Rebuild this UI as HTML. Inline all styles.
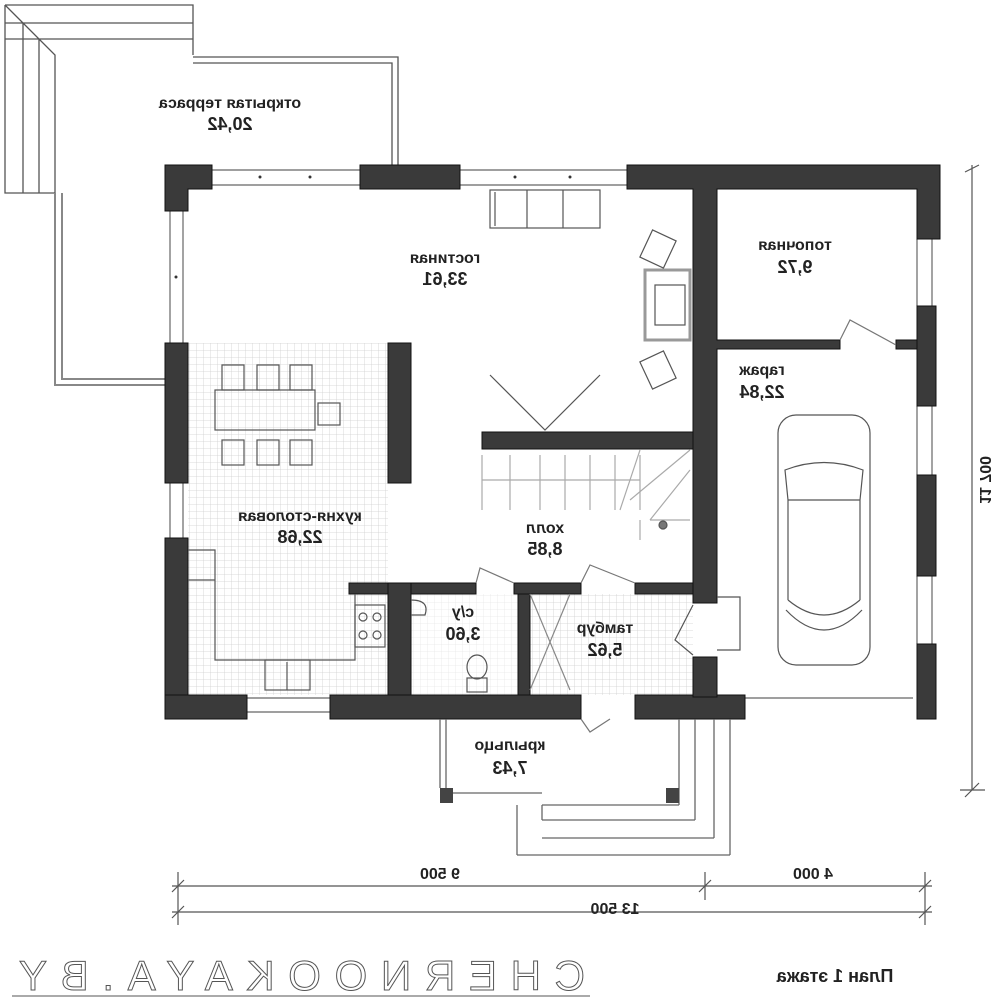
<!DOCTYPE html>
<html><head><meta charset="utf-8"><style>
html,body{margin:0;padding:0;background:#fff}
svg{display:block}
text{font-family:"Liberation Sans",sans-serif;fill:#222}
</style></head><body>
<svg width="1000" height="1000" viewBox="0 0 1000 1000" xmlns="http://www.w3.org/2000/svg">
<defs>
<pattern id="g" width="7" height="7" patternUnits="userSpaceOnUse"><path d="M7 0H0V7" fill="none" stroke="#d0d0d0" stroke-width="0.8"/></pattern>
</defs>
<g fill="none" stroke="#555" stroke-width="1.3">
<path d="M5 5H193V55M5 23H193M5 39H193M5 5V193H55M23 23V193M39 39V193M5 5L55 55V193"/>
<path d="M193 57H398V165M193 63H392V165"/>
<path d="M55 193V385H165M62 193V379H165" stroke="#888" stroke-width="2"/>
</g>
<rect x="188" y="343" width="200" height="352" fill="url(#g)"/>
<rect x="530" y="594" width="163" height="101" fill="url(#g)"/>
<rect x="411" y="594" width="107" height="101" fill="url(#g)" opacity=".5"/>
<g stroke="#666" stroke-width="1.2" fill="none">
<path d="M212 170H360M212 185H360M460 170H627M460 185H627"/>
<path d="M170 211V343M183 211V343M170 483V538M183 483V538"/>
<path d="M247 698H330M247 712H330"/>
<path d="M917 239V306M932 239V306M917 406V475M932 406V475M917 576V644M932 576V644"/>
<path d="M745 698H913"/>
</g>
<g fill="#333">
<circle cx="260" cy="177" r="1.5"/><circle cx="310" cy="177" r="1.5"/><circle cx="515" cy="177" r="1.5"/><circle cx="570" cy="177" r="1.5"/><circle cx="176" cy="277" r="1.5"/>
</g>
<g fill="#3a3a3a" stroke="#111" stroke-width="1">
<path d="M165 165H212V189H188V211H165Z"/>
<rect x="360" y="165" width="100" height="24"/>
<path d="M627 165H940V239H917V189H717V340H840V349H717V603H693V189H627Z"/>
<rect x="896" y="340" width="23" height="9"/>
<rect x="917" y="306" width="19" height="100"/>
<rect x="917" y="475" width="19" height="101"/>
<rect x="917" y="644" width="19" height="75"/>
<rect x="165" y="343" width="23" height="140"/>
<rect x="165" y="538" width="23" height="181"/>
<rect x="165" y="695" width="82" height="24"/>
<rect x="330" y="695" width="251" height="24"/>
<rect x="635" y="695" width="110" height="24"/>
<rect x="693" y="657" width="24" height="40"/>
<rect x="388" y="343" width="23" height="140"/>
<rect x="482" y="432" width="211" height="17"/>
<rect x="349" y="583" width="127" height="11"/>
<rect x="514" y="583" width="67" height="11"/>
<rect x="635" y="583" width="58" height="11"/>
<rect x="388" y="583" width="23" height="112"/>
<rect x="518" y="594" width="12" height="101"/>
</g>
<g fill="none" stroke="#555" stroke-width="1.2">
<rect x="490" y="190" width="110" height="38"/><path d="M527 190V228M563 190V228M495 192V226"/>
<rect x="645" y="234" width="26" height="30" transform="rotate(25 658 249)"/>
<rect x="645" y="355" width="26" height="30" transform="rotate(-25 658 370)"/>
<rect x="645" y="270" width="45" height="70" stroke="#999" stroke-width="3"/>
<rect x="655" y="285" width="30" height="40"/>
<path d="M490 375L545 430L600 375"/>
<rect x="215" y="390" width="100" height="40"/>
<rect x="222" y="365" width="22" height="25"/><rect x="257" y="365" width="22" height="25"/><rect x="290" y="365" width="22" height="25"/>
<rect x="222" y="440" width="22" height="25"/><rect x="257" y="440" width="22" height="25"/><rect x="290" y="440" width="22" height="25"/>
<rect x="318" y="403" width="22" height="22"/>
<path d="M188 550H215V660H355V594M215 580H188"/>
<rect x="355" y="605" width="30" height="42"/><circle cx="363" cy="617" r="4"/><circle cx="377" cy="617" r="4"/><circle cx="363" cy="635" r="4"/><circle cx="377" cy="635" r="4"/>
<rect x="265" y="660" width="45" height="30"/><path d="M287 662V690"/>
<path d="M482 455V510M510 455V510M540 455V510M565 455V510M590 455V510M615 455V510M640 455V510M482 480H640" stroke="#aaa"/>
<path d="M640 450L620 510M690 450L630 500M690 470L650 520M650 520H690M640 520V540" stroke="#aaa"/>
<circle cx="663" cy="525" r="4" fill="#777"/>
<path d="M411 600Q430 600 425 615L411 615"/>
<ellipse cx="477" cy="667" rx="10" ry="12"/><rect x="467" y="678" width="20" height="14"/>
<path d="M530 594L570 690M570 594L530 690" stroke="#888"/>
<path d="M476 583L480 568L514 583M581 583L590 565L635 583" stroke="#777"/>
<path d="M693 605L675 640L693 655M717 597H740V650H717"/>
<path d="M840 340L850 320L896 345" stroke="#777"/>
<path d="M581 719L590 732L610 719" stroke="#777"/>
<rect x="778" y="415" width="92" height="250" rx="18"/>
<path d="M785 470Q824 455 863 470L860 500H788Z M788 500V600M860 500V600M788 600Q824 630 860 600M786 610Q824 650 862 610"/>
</g>
<g fill="none" stroke="#666" stroke-width="1.3">
<path d="M440 719V788M446 719V788"/>
<path d="M453 793H542"/>
<path d="M542 805H679M517 805V855M542 805V820"/>
<path d="M542 820H695M542 838H714M517 855H730"/>
<path d="M679 719V805M695 719V820M714 719V838M730 719V855"/>
</g>
<rect x="440" y="788" width="13" height="15" fill="#444"/>
<rect x="666" y="788" width="13" height="15" fill="#444"/>
<g stroke="#555" stroke-width="1.2" fill="none">
<path d="M172 886H932M172 912H932M178 872V900M705 872V900M925 872V900M178 898V925M925 898V925"/>
<path d="M172 892L184 880M699 892L711 880M919 892L931 880M172 918L184 906M919 918L931 906"/>
<path d="M972 165V790M965 172L979 165M965 797L979 783M960 790H985"/>
</g>
<g font-size="16" font-weight="bold" text-anchor="middle">
<text transform="translate(230,108) scale(-1,1)">открытая терраса</text>
<text transform="translate(230,130) scale(-1,1)" font-size="18">20,42</text>
<text transform="translate(445,263) scale(-1,1)">гостиная</text>
<text transform="translate(445,285) scale(-1,1)" font-size="18">33,61</text>
<text transform="translate(795,250) scale(-1,1)">топочная</text>
<text transform="translate(795,273) scale(-1,1)" font-size="18">9,72</text>
<text transform="translate(762,375) scale(-1,1)">гараж</text>
<text transform="translate(762,398) scale(-1,1)" font-size="18">22,84</text>
<text transform="translate(300,521) scale(-1,1)">кухня-столовая</text>
<text transform="translate(300,543) scale(-1,1)" font-size="18">22,68</text>
<text transform="translate(545,533) scale(-1,1)">холл</text>
<text transform="translate(545,555) scale(-1,1)" font-size="18">8,85</text>
<text transform="translate(463,617) scale(-1,1)">с/у</text>
<text transform="translate(463,640) scale(-1,1)" font-size="18">3,60</text>
<text transform="translate(605,633) scale(-1,1)">тамбур</text>
<text transform="translate(605,656) scale(-1,1)" font-size="18">5,62</text>
<text transform="translate(510,750) scale(-1,1)">крыльцо</text>
<text transform="translate(510,774) scale(-1,1)" font-size="18">7,43</text>
<text transform="translate(440,879) scale(-1,1)">9 500</text>
<text transform="translate(813,879) scale(-1,1)">4 000</text>
<text transform="translate(615,914) scale(-1,1)">13 500</text>
<text transform="translate(980,480) rotate(90) scale(-1,1)">11 700</text>
<text transform="translate(835,982) scale(-1,1)" font-size="18">План 1 этажа</text>
</g>
<text transform="translate(300,990) scale(-1,1)" text-anchor="middle" font-size="42" font-weight="normal" letter-spacing="4" textLength="570" style="fill:none;stroke:#555;stroke-width:1">CHERNOOKAYA.BY</text>
<path d="M12 996H590" stroke="#aaa" stroke-width="2"/>
</svg>
</body></html>
